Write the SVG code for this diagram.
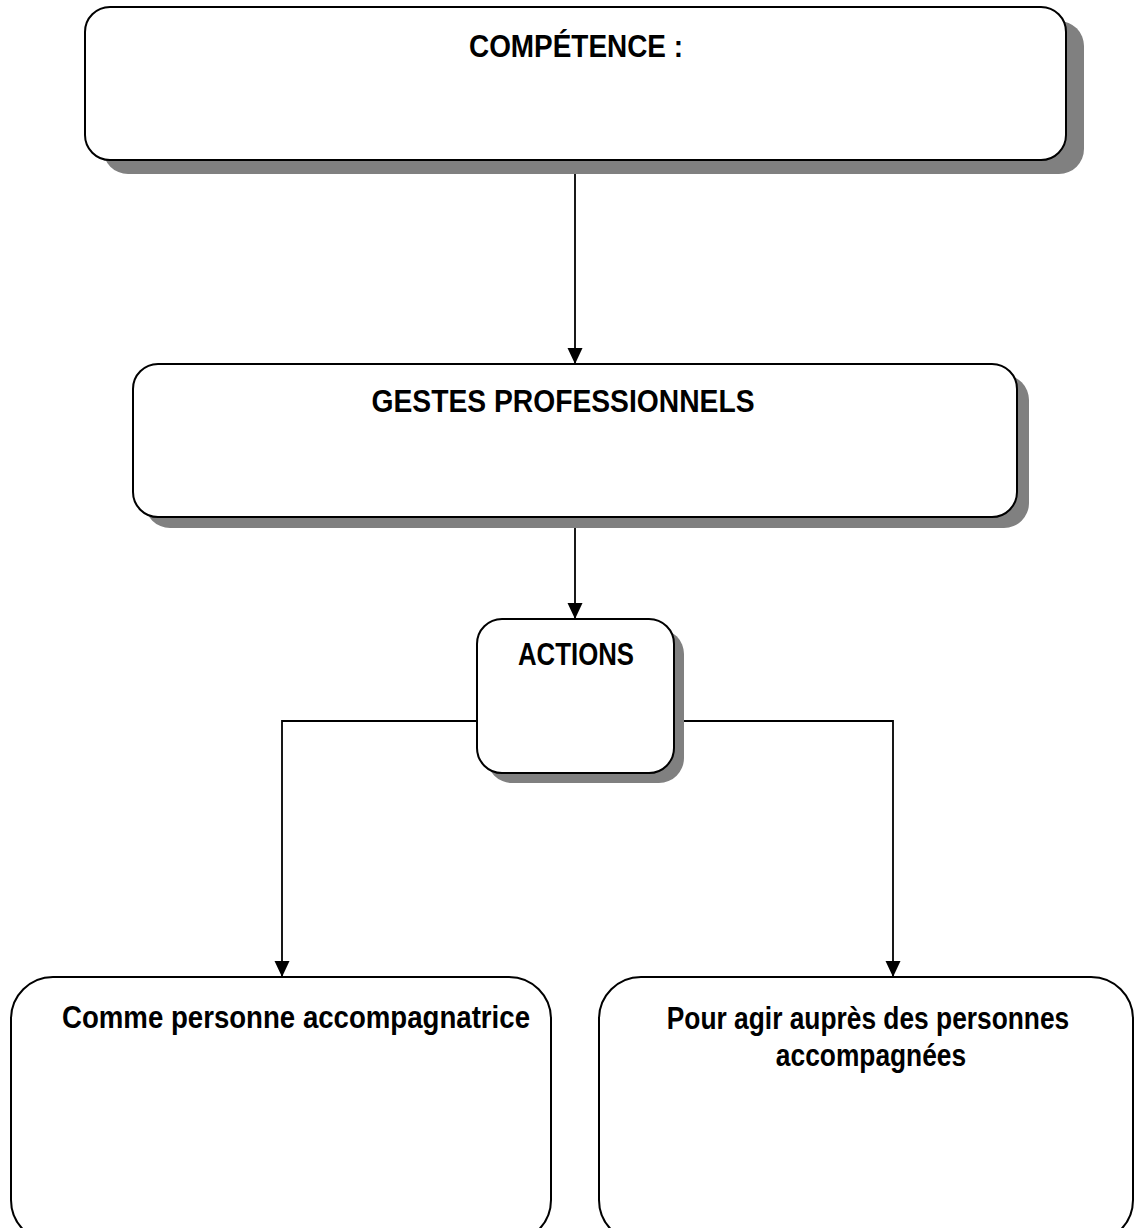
<svg xmlns="http://www.w3.org/2000/svg" width="1135" height="1228" viewBox="0 0 1135 1228">
<style>
.box{fill:#fff;stroke:#000;stroke-width:2}
.sh{fill:#808080}
.t{font-family:"Liberation Sans",Arial,sans-serif;font-weight:bold;font-size:31px;fill:#000}
.c{fill:none;stroke:#000;stroke-width:1.8}
</style>
<defs>
<marker id="ah" markerWidth="16" markerHeight="16" viewBox="0 0 16 16" refX="16" refY="8" orient="auto" markerUnits="userSpaceOnUse">
<path d="M0,0.5 L16,8 L0,15.5 Z" fill="#000"/>
</marker>
</defs>
<g id="connectors">
<line class="c" x1="575" y1="160" x2="575" y2="364" marker-end="url(#ah)"/>
<line class="c" x1="575" y1="517" x2="575" y2="619" marker-end="url(#ah)"/>
<polyline class="c" points="477,721 282,721 282,977" marker-end="url(#ah)"/>
<polyline class="c" points="674,721 893,721 893,977" marker-end="url(#ah)"/>
</g>
<g id="competence">
<rect class="sh" x="103" y="21" width="981" height="153" rx="25"/>
<rect class="box" x="85" y="7" width="981" height="153" rx="25"/>
<text class="t" x="576" y="57" text-anchor="middle" textLength="214" lengthAdjust="spacingAndGlyphs">COMPÉTENCE :</text>
</g>
<g id="gestes">
<rect class="sh" x="145" y="375" width="884" height="153" rx="25"/>
<rect class="box" x="133" y="364" width="884" height="153" rx="25"/>
<text class="t" x="563" y="412" text-anchor="middle" textLength="383" lengthAdjust="spacingAndGlyphs">GESTES PROFESSIONNELS</text>
</g>
<g id="actions">
<rect class="sh" x="487" y="629" width="197" height="154" rx="25"/>
<rect class="box" x="477" y="619" width="197" height="154" rx="25"/>
<text class="t" x="576" y="665" text-anchor="middle" textLength="116" lengthAdjust="spacingAndGlyphs">ACTIONS</text>
</g>
<g id="accompagnatrice">
<rect class="box" x="11" y="977" width="540" height="265" rx="42"/>
<text class="t" x="296" y="1028" text-anchor="middle" textLength="468" lengthAdjust="spacingAndGlyphs">Comme personne accompagnatrice</text>
</g>
<g id="accompagnees">
<rect class="box" x="599" y="977" width="534" height="265" rx="42"/>
<text class="t" x="0" y="0" text-anchor="middle" transform="translate(868,1029) scale(0.85,1)">Pour agir auprès des personnes</text>
<text class="t" x="0" y="0" text-anchor="middle" transform="translate(871,1066) scale(0.85,1)">accompagnées</text>
</g>
</svg>
